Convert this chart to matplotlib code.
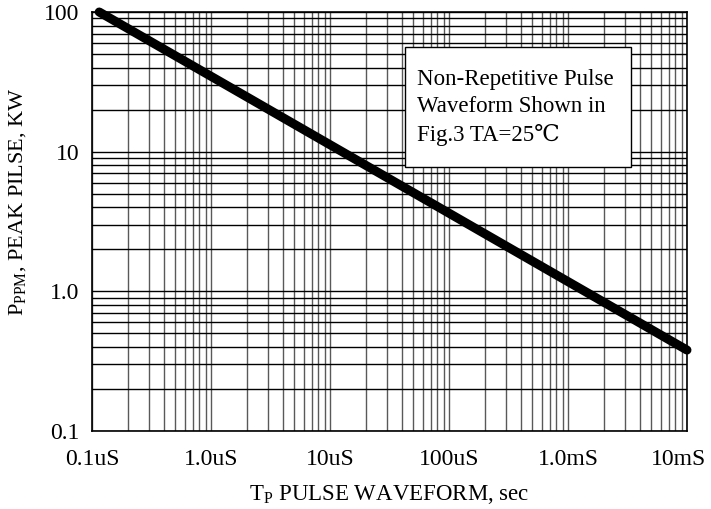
#!/usr/bin/env python3
"""Peak pulse power vs pulse width (datasheet style log-log chart)."""

import matplotlib

matplotlib.use("Agg")
import matplotlib.pyplot as plt
from matplotlib.patches import Rectangle
from matplotlib.ticker import FixedLocator, LogLocator, NullFormatter
from matplotlib.transforms import ScaledTranslation

# Data
pulse_width = [1.15e-7, 1e-2]  # seconds
peak_power = [100, 0.38]  # kW

x_ticks = [1e-7, 1e-6, 1e-5, 1e-4, 1e-3, 1e-2]
x_tick_labels = ["0.1uS", "1.0uS", "10uS", "100uS", "1.0mS", "10mS"]
y_ticks = [0.1, 1, 10, 100]
y_tick_labels = ["0.1", "1.0", "10", "100"]

note = "Non-Repetitive Pulse\nWaveform Shown in\nFig.3 TA=25\u2103"

plt.rcParams["font.family"] = ["Liberation Serif", "DejaVu Serif"]
plt.rcParams["mathtext.fontset"] = "custom"
plt.rcParams["mathtext.rm"] = "Liberation Serif"


def make_plot(output_filename):
    fig = plt.figure(figsize=(7.11, 5.09), dpi=100)
    ax = fig.add_axes([0.1294, 0.1532, 0.8368, 0.8232])

    ax.set_xscale("log")
    ax.set_yscale("log")
    ax.set_xlim(1e-7, 1e-2)
    ax.set_ylim(0.1, 100)

    ax.xaxis.set_major_locator(FixedLocator(x_ticks))
    ax.set_xticklabels(x_tick_labels)
    ax.yaxis.set_major_locator(FixedLocator(y_ticks))
    ax.set_yticklabels(y_tick_labels)
    for axis in (ax.xaxis, ax.yaxis):
        axis.set_minor_locator(LogLocator(base=10, subs=range(2, 10)))
        axis.set_minor_formatter(NullFormatter())

    ax.tick_params(which="both", length=0, labelsize=17)
    ax.tick_params(axis="x", pad=13)
    ax.tick_params(axis="y", pad=9)

    # last label sits a little left of the edge so it fits
    last = ax.get_xticklabels()[-1]
    last.set_transform(last.get_transform()
                       + ScaledTranslation(-6 / 72, 0, fig.dpi_scale_trans))

    # Graph paper grid
    ax.grid(True, which="both", axis="x", color="0.35", linewidth=1.0)
    ax.grid(True, which="both", axis="y", color="black", linewidth=1.0)
    ax.set_axisbelow(True)
    for spine in ax.spines.values():
        spine.set_linewidth(1.2)
        spine.set_color("black")

    ax.plot(pulse_width, peak_power, color="black", linewidth=6.5,
            solid_capstyle="round", clip_on=False, zorder=5)

    # Note box
    ax.add_patch(Rectangle((0.526, 0.630), 0.38, 0.2865,
                           transform=ax.transAxes, facecolor="white",
                           edgecolor="black", linewidth=1.0, zorder=3))
    ax.text(0.546, 0.773, note, transform=ax.transAxes, fontsize=16.5,
            va="center", ha="left", linespacing=1.4, zorder=4)

    ax.set_xlabel(r"T$\mathregular{_P}$ PULSE WAVEFORM, sec", fontsize=16.5,
                  labelpad=9)
    ax.set_ylabel(r"P$\mathregular{_{PPM}}$, PEAK PILSE, KW", fontsize=16)
    ax.yaxis.set_label_coords(-0.108, 0.547)

    fig.savefig(output_filename)


if __name__ == "__main__":
    make_plot("out.png")
